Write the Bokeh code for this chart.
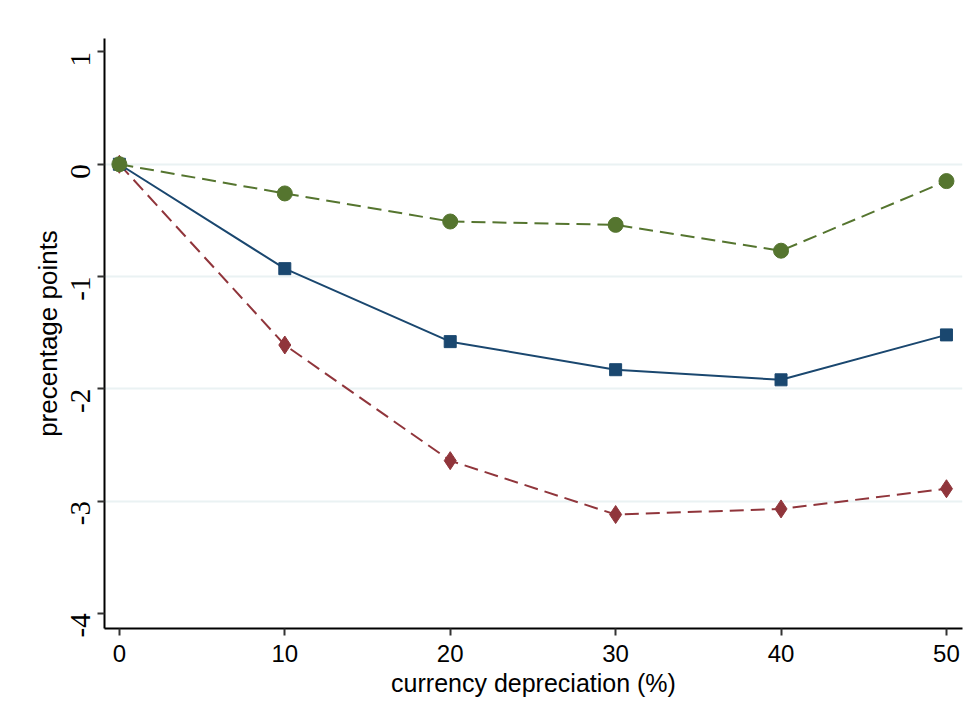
import math
from bokeh.plotting import figure
from bokeh.models import FixedTicker, Range1d
from bokeh.embed import file_html
from bokeh.resources import INLINE

# data
depreciation = [0, 10, 20, 30, 40, 50]
series_blue = [0.0, -0.93, -1.58, -1.83, -1.92, -1.52]
series_red = [0.0, -1.61, -2.64, -3.12, -3.07, -2.89]
series_green = [0.0, -0.26, -0.51, -0.54, -0.77, -0.15]
x_ticks = [0, 10, 20, 30, 40, 50]
y_ticks = [-4, -3, -2, -1, 0, 1]
grid_ticks = [-3, -2, -1, 0]

BLUE = "#1a476f"
RED = "#90353b"
GREEN = "#55752f"
FONT = "Liberation Sans"

p = figure(width=968, height=712, output_backend="svg", toolbar_location=None,
           x_range=Range1d(-0.9, 50.97), y_range=Range1d(-4.135, 1.12),
           min_border_left=104, min_border_right=6, min_border_top=38, min_border_bottom=84)
p.outline_line_color = None
p.background_fill_color = "white"
p.border_fill_color = "white"

p.xgrid.visible = False
p.ygrid.ticker = FixedTicker(ticks=grid_ticks)
p.ygrid.grid_line_color = "#eaf2f3"
p.ygrid.grid_line_width = 2

for ax in (p.xaxis[0], p.yaxis[0]):
    ax.axis_line_color = "black"
    ax.axis_line_width = 2
    ax.major_tick_line_color = "#333333"
    ax.major_tick_line_width = 2
    ax.major_tick_out = 7
    ax.major_tick_in = 0
    ax.minor_tick_line_color = None
    ax.major_label_text_font = FONT
    ax.major_label_text_font_size = "24px"
    ax.major_label_text_color = "black"
    ax.axis_label_text_font = FONT
    ax.axis_label_text_font_size = "25px"
    ax.axis_label_text_font_style = "normal"
    ax.axis_label_text_color = "black"

p.yaxis.major_label_text_font = "Liberation Sans Narrow"
p.yaxis.major_label_text_font_size = "29px"
p.yaxis.axis_label_text_font_size = "26px"

p.xaxis.ticker = FixedTicker(ticks=x_ticks)
p.yaxis.ticker = FixedTicker(ticks=y_ticks)
p.yaxis.major_label_overrides = {t: str(t) for t in y_ticks}
p.xaxis.axis_label = "currency depreciation (%)"
p.yaxis.axis_label = "precentage points"
p.yaxis.major_label_orientation = math.pi / 2
p.xaxis.major_label_standoff = 9
p.yaxis.major_label_standoff = 17
p.xaxis.axis_label_standoff = 4
p.yaxis.axis_label_standoff = -4

# lines
p.line(depreciation, series_blue, line_color=BLUE, line_width=2)
p.line(depreciation, series_red, line_color=RED, line_width=2, line_dash="14 7")
p.line(depreciation, series_green, line_color=GREEN, line_width=2, line_dash="14 7")

# markers
p.scatter(depreciation, series_blue, marker="square", size=12, fill_color=BLUE, line_color=BLUE)
p.scatter(depreciation, series_red, marker="diamond", size=18, fill_color=RED, line_color=RED)
p.scatter(depreciation, series_green, marker="circle", size=15, fill_color=GREEN, line_color=GREEN)

open("out.html", "w").write(file_html(p, INLINE))
